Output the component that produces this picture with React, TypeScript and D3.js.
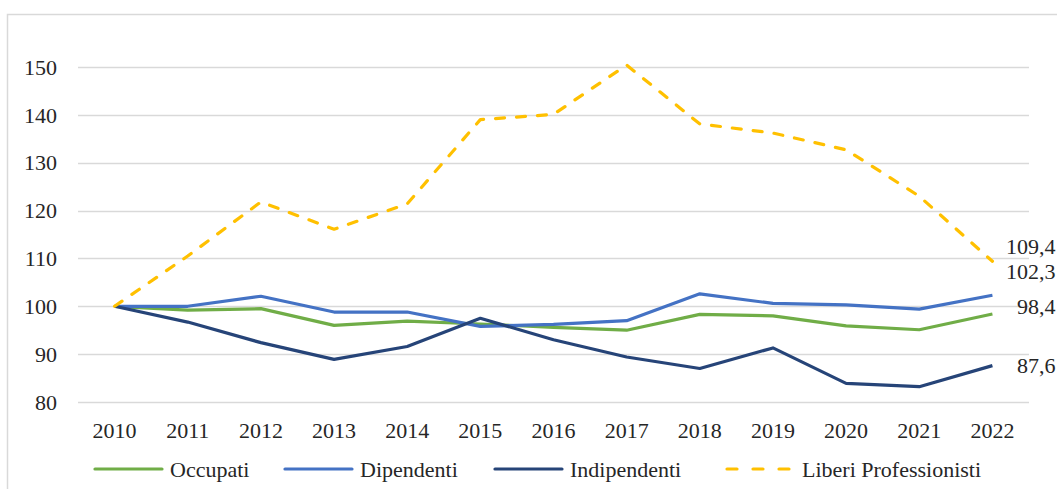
import React, { useRef, useEffect } from 'react';
import * as d3 from 'd3';

const years = ['2010', '2011', '2012', '2013', '2014', '2015', '2016', '2017', '2018', '2019', '2020', '2021', '2022'];
const occupati = [100, 99.2, 99.5, 96.0, 96.9, 96.3, 95.6, 95.0, 98.3, 98.0, 95.9, 95.1, 98.4];
const dipendenti = [100, 100.0, 102.1, 98.8, 98.8, 95.8, 96.2, 97.0, 102.6, 100.6, 100.3, 99.4, 102.3];
const indipendenti = [100, 96.7, 92.4, 88.9, 91.6, 97.5, 93.0, 89.4, 87.0, 91.3, 83.9, 83.2, 87.6];
const liberi = [100, 110.5, 121.8, 116.1, 121.4, 139.0, 140.1, 150.4, 138.1, 136.2, 132.7, 123.0, 109.4];
const yTicks = [80, 90, 100, 110, 120, 130, 140, 150];

const series = [
  { name: 'Occupati', values: occupati, color: '#70AD47', dash: null },
  { name: 'Dipendenti', values: dipendenti, color: '#4472C4', dash: null },
  { name: 'Indipendenti', values: indipendenti, color: '#264478', dash: null },
  { name: 'Liberi Professionisti', values: liberi, color: '#FFC000', dash: '9 12' },
];

// label nudges for the end values, as in the original
const endLabels = [
  { value: liberi[12], dy: -15 },
  { value: dipendenti[12], dy: -24 },
  { value: occupati[12], dy: -8 },
  { value: indipendenti[12], dy: 0 },
];

const font = '"Liberation Serif", "Times New Roman", serif';
const fontSize = '22px';

const App: React.FC = () => {
  const svgRef = useRef<SVGSVGElement | null>(null);

  useEffect(() => {
    if (!svgRef.current) return;
    const width = 1057;
    const height = 489;
    const svg = d3.select(svgRef.current);
    svg.selectAll('*').remove();

    svg.append('rect')
      .attr('x', 7.5).attr('y', 14.5)
      .attr('width', 1100).attr('height', 500)
      .attr('fill', '#fff')
      .attr('stroke', '#D9D9D9')
      .attr('stroke-width', 1.5);

    const margin = { top: 67, right: 28, left: 78, bottom: 87 };
    const x = d3.scaleBand().domain(years).range([margin.left, width - margin.right]);
    const y = d3.scaleLinear().domain([80, 150]).range([height - margin.bottom, margin.top]);
    const cx = (d: string) => (x(d) ?? 0) + x.bandwidth() / 2;

    // grid
    svg.append('g')
      .selectAll('line')
      .data(yTicks)
      .join('line')
      .attr('x1', margin.left).attr('x2', width - margin.right)
      .attr('y1', d => Math.round(y(d)) + 0.5).attr('y2', d => Math.round(y(d)) + 0.5)
      .attr('stroke', '#D9D9D9')
      .attr('stroke-width', 1.5);

    svg.append('g')
      .selectAll('text')
      .data(yTicks)
      .join('text')
      .attr('x', 57)
      .attr('y', d => y(d))
      .attr('dy', '0.35em')
      .attr('text-anchor', 'end')
      .style('font-family', font)
      .style('font-size', fontSize)
      .attr('fill', '#262626')
      .text(d => d);

    svg.append('g')
      .selectAll('text')
      .data(years)
      .join('text')
      .attr('x', d => cx(d))
      .attr('y', 438)
      .attr('text-anchor', 'middle')
      .style('font-family', font)
      .style('font-size', fontSize)
      .attr('fill', '#262626')
      .text(d => d);

    const line = d3.line<number>()
      .x((_, i) => cx(years[i]))
      .y(d => y(d));

    svg.append('g')
      .selectAll('path')
      .data(series)
      .join('path')
      .attr('d', d => line(d.values))
      .attr('fill', 'none')
      .attr('stroke', d => d.color)
      .attr('stroke-width', 3.2)
      .attr('stroke-linejoin', 'round')
      .attr('stroke-linecap', d => (d.dash ? 'round' : 'butt'))
      .attr('stroke-dasharray', d => d.dash);

    svg.append('g')
      .selectAll('text')
      .data(endLabels)
      .join('text')
      .attr('x', cx(years[12]) + 63)
      .attr('y', d => y(d.value) + d.dy)
      .attr('dy', '0.35em')
      .attr('text-anchor', 'end')
      .style('font-family', font)
      .style('font-size', fontSize)
      .attr('fill', '#262626')
      .text(d => d3.format('.1f')(d.value).replace('.', ','));

    // legend
    const legendX = [95, 285, 495, 727];
    const legend = svg.append('g');
    const item = legend.selectAll('g')
      .data(series)
      .join('g')
      .attr('transform', (_, i) => `translate(${legendX[i]},469)`);

    item.append('line')
      .attr('x1', 0).attr('x2', 67)
      .attr('stroke', d => d.color)
      .attr('stroke-width', 3.2)
      .attr('stroke-linecap', 'round')
      .attr('stroke-dasharray', d => (d.dash ? '10 16' : null));

    item.append('text')
      .attr('x', 75)
      .attr('dy', '0.35em')
      .style('font-family', font)
      .style('font-size', fontSize)
      .attr('fill', '#262626')
      .text(d => d.name);
  }, []);

  return (
    <svg
      ref={svgRef}
      width={1057}
      height={489}
      style={{ position: 'absolute', left: 0, top: 0, display: 'block', background: '#fff' }}
    />
  );
};

export default App;
